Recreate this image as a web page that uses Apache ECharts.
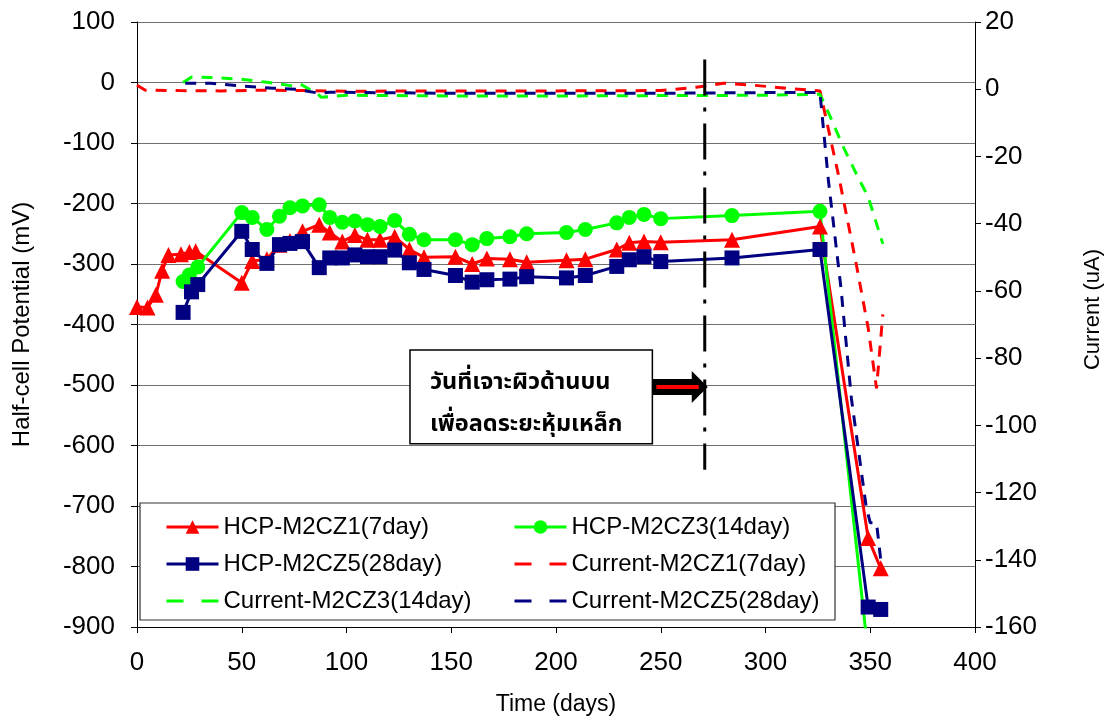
<!DOCTYPE html>
<html>
<head>
<meta charset="utf-8">
<script src="https://cdn.jsdelivr.net/npm/echarts@6/dist/echarts.min.js"></script>
<style>
  html, body { margin: 0; padding: 0; background: #fff; }
  #chart { width: 1114px; height: 717px; }
</style>
</head>
<body>
<div id="chart"></div>
<script>
// Half-cell potential (mV) against time (days)
const hcp1Days = [0, 5, 9, 12, 15, 21, 25, 28, 50, 55, 62, 68, 73, 79, 87, 92, 98, 104, 110, 116, 123, 130, 137, 152, 160, 167, 178, 186, 205, 214, 229, 235, 242, 250, 284, 326, 349, 355];
const hcp1Values = [-371, -372, -351, -311, -285, -284, -280, -279, -331, -295, -292, -268, -262, -246, -235, -248, -263, -252, -260, -260, -255, -276, -289, -288, -300, -291, -292, -297, -294, -292, -276, -265, -263, -264, -260, -238, -753, -803];

const hcp3Days = [22, 25, 29, 50, 55, 62, 68, 73, 79, 87, 92, 98, 104, 110, 116, 123, 130, 137, 152, 160, 167, 178, 186, 205, 214, 229, 235, 242, 250, 284, 326, 349];
const hcp3Values = [-329, -318, -305, -215, -223, -243, -221, -207, -204, -202, -223, -231, -229, -235, -238, -228, -251, -260, -260, -268, -258, -255, -250, -248, -243, -232, -223, -218, -225, -220, -213, -945];

const hcp5Days = [22, 26, 29, 50, 55, 62, 68, 73, 79, 87, 92, 98, 104, 110, 116, 123, 130, 137, 152, 160, 167, 178, 186, 205, 214, 229, 235, 242, 250, 284, 326, 349, 355];
const hcp5Values = [-380, -346, -334, -246, -276, -299, -268, -266, -263, -306, -290, -290, -285, -288, -288, -277, -298, -309, -319, -330, -326, -325, -321, -323, -319, -304, -293, -288, -296, -290, -276, -867, -871];

// Corrosion current (uA) against time (days)
const cur1Days = [0, 4, 20, 40, 60, 80, 100, 150, 200, 250, 267, 280, 294, 310, 326, 335, 343, 349, 353, 356];
const cur1Values = [1.2, -0.3, -0.4, -0.5, -0.3, -0.4, -0.6, -0.5, -0.5, -0.4, 0.6, 1.8, 1.2, 0.3, -0.5, -26, -51, -71, -89, -67];

const cur3Days = [22, 26, 35, 49, 63, 74, 78, 86, 88, 100, 150, 200, 250, 300, 326, 331, 337, 344, 349, 353, 356];
const cur3Values = [2.0, 3.6, 3.5, 3.0, 2.0, 1.0, 1.5, -1.3, -2.4, -1.8, -2.0, -2.0, -1.9, -1.8, -1.5, -8.3, -17, -26, -32, -40, -46];

const cur5Days = [23, 35, 49, 65, 76, 87, 92, 150, 200, 250, 300, 326, 330, 336, 341, 348, 350, 353, 355];
const cur5Values = [1.8, 1.8, 1.0, 0.3, 0.0, -1.2, -0.9, -1.2, -1.2, -1.2, -1.0, -1.0, -27, -59, -92, -124, -129, -129, -140];

// Day the top surface was drilled to reduce the concrete cover
const drillDay = 271;
const drillSpan = [38, -640];
const noteLines = ['วันที่เจาะผิวด้านบน', 'เพื่อลดระยะหุ้มเหล็ก'];

const seriesNames = [
  'HCP-M2CZ1(7day)', 'HCP-M2CZ3(14day)', 'HCP-M2CZ5(28day)',
  'Current-M2CZ1(7day)', 'Current-M2CZ3(14day)', 'Current-M2CZ5(28day)'
];

const FONT = '"Liberation Sans", Arial, sans-serif';
const THAI_FONT = 'bold 23.5px "Noto Sans Thai", Tahoma, "DejaVu Sans", sans-serif';
const RED = '#ff0000', GREEN = '#00ff00', NAVY = '#000080';
const DASH = [11, 9];

const pairs = (xs, ys) => xs.map((x, i) => [x, ys[i]]);

function hcpSeries(name, xs, ys, color, symbol, size) {
  return {
    name, type: 'line', xAxisIndex: 0, yAxisIndex: 0,
    data: pairs(xs, ys), color,
    symbol, symbolSize: size, showSymbol: true,
    lineStyle: { color, width: 3 },
    itemStyle: { color },
    clip: true, animation: false, z: 3
  };
}
function currentSeries(name, xs, ys, color) {
  return {
    name, type: 'line', xAxisIndex: 0, yAxisIndex: 1,
    data: pairs(xs, ys), color,
    symbol: 'none',
    lineStyle: { color, width: 3, type: DASH },
    itemStyle: { color },
    clip: true, animation: false, z: 3
  };
}

const chart = echarts.init(document.getElementById('chart'), null, { renderer: 'canvas' });

const axisText = { fontSize: 26, color: '#000', fontFamily: FONT };
const legendText = { fontSize: 24, color: '#000', fontFamily: FONT };
// dashed legend keys carry no marker
const dashedKey = name => ({ name, lineStyle: { type: [17, 18], width: 3 }, itemStyle: { opacity: 0 } });

const legendBase = {
  orient: 'vertical', top: 510, itemWidth: 52, itemHeight: 17, itemGap: 13,
  textStyle: legendText, selectedMode: false, z: 10,
  lineStyle: { width: 3 }
};

const option = {
  animation: false,
  backgroundColor: '#fff',
  grid: { left: 137, right: 139, top: 22, bottom: 90, outerBoundsMode: 'none', containLabel: false },
  xAxis: {
    type: 'value', min: 0, max: 400, interval: 50,
    name: 'Time (days)', nameLocation: 'middle', nameGap: 66,
    nameTextStyle: { fontSize: 23, color: '#000', fontFamily: FONT },
    axisLine: { show: true, onZero: false, lineStyle: { color: '#000', width: 1 } },
    axisTick: { show: true, inside: false, length: 6, lineStyle: { color: '#000' } },
    axisLabel: Object.assign({ margin: 23 }, axisText),
    splitLine: { show: false }
  },
  yAxis: [
    {
      type: 'value', min: -900, max: 100, interval: 100, position: 'left',
      name: 'Half-cell Potential (mV)', nameLocation: 'middle', nameGap: 103, nameRotate: 90,
      nameTextStyle: { fontSize: 24, color: '#000', fontFamily: FONT },
      axisLine: { show: true, onZero: false, lineStyle: { color: '#000', width: 1 } },
      axisTick: { show: true, inside: false, length: 6, lineStyle: { color: '#000' } },
      axisLabel: Object.assign({ margin: 22 }, axisText),
      splitLine: { show: true, lineStyle: { color: '#707070', width: 1 } }
    },
    {
      type: 'value', min: -160, max: 20, interval: 20, position: 'right',
      name: 'Current (uA)', nameLocation: 'middle', nameGap: 107, nameRotate: 90,
      nameTextStyle: { fontSize: 22, color: '#000', fontFamily: FONT, padding: [0, 0, 0, 30] },
      axisLine: { show: true, onZero: false, lineStyle: { color: '#000', width: 1 } },
      axisTick: { show: true, inside: false, length: 6, lineStyle: { color: '#000' } },
      axisLabel: Object.assign({ margin: 10 }, axisText),
      splitLine: { show: false }
    }
  ],
  legend: [
    Object.assign({}, legendBase, {
      left: 160,
      data: [seriesNames[0], seriesNames[2], dashedKey(seriesNames[4])]
    }),
    Object.assign({}, legendBase, {
      left: 508,
      data: [seriesNames[1], dashedKey(seriesNames[3]), dashedKey(seriesNames[5])]
    })
  ],
  series: [
    hcpSeries(seriesNames[0], hcp1Days, hcp1Values, RED, 'triangle', 16),
    hcpSeries(seriesNames[1], hcp3Days, hcp3Values, GREEN, 'circle', 15),
    hcpSeries(seriesNames[2], hcp5Days, hcp5Values, NAVY, 'rect', 15),
    currentSeries(seriesNames[3], cur1Days, cur1Values, RED),
    currentSeries(seriesNames[4], cur3Days, cur3Values, GREEN),
    currentSeries(seriesNames[5], cur5Days, cur5Values, NAVY),
    {
      name: 'drill', type: 'line', xAxisIndex: 0, yAxisIndex: 0,
      data: drillSpan.map(v => [drillDay, v]),
      symbol: 'none', silent: true,
      lineStyle: { color: '#000', width: 3, type: [36, 12, 4, 12] },
      animation: false, z: 4
    }
  ]
};

chart.setOption(option);

// Legend frame, note box and arrow pointing at the drilling day
function px(x, y) { return chart.convertToPixel({ xAxisIndex: 0, yAxisIndex: 0 }, [x, y]); }
const boxTL = px(130.3, -442);
const boxBR = px(246, -597);
const tip = px(drillDay, -500);
const ay = tip[1] + 2;
const ax0 = boxBR[0];
const tipX = tip[0] + 3;

chart.setOption({
  graphic: [
    {
      type: 'rect', z: 5, silent: true,
      shape: { x: 140, y: 503, width: 695, height: 117 },
      style: { fill: '#fff', stroke: '#333', lineWidth: 1.2 }
    },
    {
      type: 'rect', z: 5, silent: true,
      shape: { x: boxTL[0], y: boxTL[1], width: boxBR[0] - boxTL[0], height: boxBR[1] - boxTL[1] },
      style: { fill: '#fff', stroke: '#000', lineWidth: 1.5 }
    },
    {
      type: 'text', z: 6, silent: true,
      x: boxTL[0] + 20, y: boxTL[1] + 34,
      style: { text: noteLines[0], font: THAI_FONT, fill: '#000', verticalAlign: 'middle' }
    },
    {
      type: 'text', z: 6, silent: true,
      x: boxTL[0] + 20, y: boxTL[1] + 76,
      style: { text: noteLines[1], font: THAI_FONT, fill: '#000', verticalAlign: 'middle' }
    },
    {
      type: 'polygon', z: 6, silent: true,
      shape: { points: [[ax0, ay - 8], [tipX - 16, ay - 8], [tipX - 16, ay - 16], [tipX, ay], [tipX - 16, ay + 16], [tipX - 16, ay + 8], [ax0, ay + 8]] },
      style: { fill: '#000' }
    },
    {
      type: 'line', z: 7, silent: true,
      shape: { x1: ax0 + 4, y1: ay, x2: tipX - 9, y2: ay },
      style: { stroke: '#ff0000', lineWidth: 4 }
    }
  ]
});
</script>
</body>
</html>
